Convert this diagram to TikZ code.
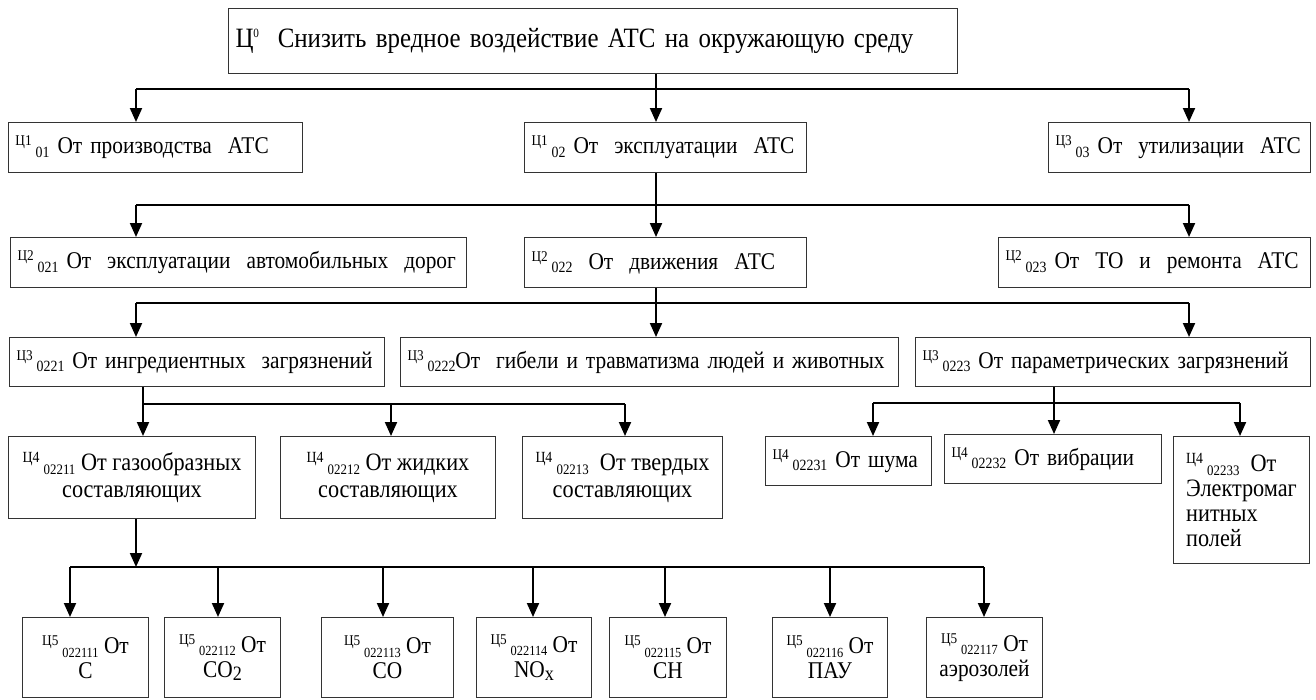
\documentclass[tikz,border=0pt]{standalone}
\usepackage{fontspec}
\setmainfont{Liberation Serif}[FakeStretch=0.89]
\usepackage{graphicx}
\usetikzlibrary{arrows.meta}
\pgfdeclarelayer{bg}
\pgfsetlayers{bg,main}
\newcommand\gc[3][.65]{\raisebox{.33em}{\scalebox{.62}{Ц#2}}\,\raisebox{-.14em}{\scalebox{#1}{#3}}}
\def\gtop{Ц\raisebox{.35em}{\scalebox{.45}{0}}}
\def\lowsub#1{\raisebox{-.12em}{\scalebox{.85}{#1}}}

\tikzset{
  goal/.style={draw=black!80,line width=1pt,anchor=north west,inner xsep=7pt,inner ysep=0pt,align=left,font=\fontsize{24}{27}\selectfont},
  twoline/.style={goal,align=center,inner xsep=3pt,font=\fontsize{25}{27}\selectfont},
  leaf/.style={twoline,font=\fontsize{24}{25}\selectfont},
  link/.style={line width=2pt,-{Triangle[length=14pt,width=12pt]}},
  bus/.style={line width=1.2pt},
}

\begin{document}
\begin{tikzpicture}[x=1pt,y=-1pt]

\useasboundingbox (0,0) rectangle (1316,699);

% Draw the nodes...
\node (0) at (228,8) [goal,text width=715pt,minimum height=65pt,font=\fontsize{28}{30}\selectfont] {\gtop~ Снизить вредное воздействие АТС на окружающую среду};

\node (01) at (8,122) [goal,text width=280pt,minimum height=50pt] {\gc{1}{01} От производства~ АТС};
\node (02) at (524,122) [goal,text width=268pt,minimum height=50pt] {\gc{1}{02} От~ эксплуатации~ АТС};
\node (03) at (1048,122) [goal,text width=248pt,minimum height=50pt] {\gc{3}{03} От~ утилизации~ АТС};

\node (021) at (10,237) [goal,text width=442pt,minimum height=50pt] {\gc{2}{021} От~ эксплуатации~ автомобильных~ дорог};
\node (022) at (524,237) [goal,text width=268pt,minimum height=50pt] {\gc{2}{022}~ От~ движения~ АТС};
\node (023) at (998,237) [goal,text width=298pt,minimum height=50pt] {\gc{2}{023} От~ ТО~ и~ ремонта~ АТС};

\node (0221) at (9,337) [goal,text width=361pt,minimum height=49pt] {\gc{3}{0221} От ингредиентных~ загрязнений};
\node (0222) at (400,337) [goal,text width=484pt,minimum height=49pt] {\gc{3}{0222}От~ гибели и травматизма людей и животных};
\node (0223) at (915,337) [goal,text width=381pt,minimum height=49pt] {\gc{3}{0223} От параметрических загрязнений};

\node (02211) at (8,436) [twoline,minimum width=247pt,minimum height=82pt] {\gc[.58]{4}{02211} От газообразных\\составляющих};
\node (02212) at (280,436) [twoline,minimum width=215pt,minimum height=82pt] {\gc[.58]{4}{02212} От жидких\\составляющих};
\node (02213) at (522,436) [twoline,minimum width=200pt,minimum height=82pt] {\gc[.58]{4}{02213}~ От твердых\\составляющих};

\node (02231) at (765,436) [goal,text width=152pt,minimum height=49pt] {\gc{4}{02231} От шума};
\node (02232) at (944,434) [goal,text width=203pt,minimum height=49pt] {\gc{4}{02232} От вибрации};
\node (02233) at (1173,436) [goal,minimum width=136pt,minimum height=127pt,font=\fontsize{25}{25}\selectfont] {\gc[.58]{4}{02233}~ От\\Электромаг\\нитных\\полей};

\node (022111) at (22,617) [leaf,minimum width=126pt,minimum height=80pt] {\gc[.58]{5}{022111} От\\C};
\node (022112) at (164,617) [leaf,minimum width=116pt,minimum height=80pt] {\gc[.58]{5}{022112} От\\CO\lowsub{2}};
\node (022113) at (321,617) [leaf,minimum width=132pt,minimum height=80pt] {\gc[.58]{5}{022113} От\\CO};
\node (022114) at (476,617) [leaf,minimum width=115pt,minimum height=80pt] {\gc[.58]{5}{022114} От\\NO\lowsub{x}};
\node (022115) at (609,617) [leaf,minimum width=117pt,minimum height=80pt] {\gc[.58]{5}{022115} От\\CH};
\node (022116) at (772,617) [leaf,minimum width=115pt,minimum height=80pt] {\gc[.58]{5}{022116} От\\ПАУ};
\node (022117) at (926,617) [leaf,minimum width=116pt,minimum height=80pt] {\gc[.58]{5}{022117} От\\аэрозолей};

% Bus points...
\coordinate (s01) at (136,89);
\coordinate (s02) at (656,89);
\coordinate (s03) at (1189,89);
\coordinate (s021) at (136,205);
\coordinate (s022) at (656,205);
\coordinate (s023) at (1189,205);
\coordinate (s0221) at (136,303);
\coordinate (s0222) at (656,303);
\coordinate (s0223) at (1189,303);
\coordinate (s02211) at (143,404);
\coordinate (s02212) at (391,404);
\coordinate (s02213) at (625,404);
\coordinate (s02231) at (873,403);
\coordinate (s02232) at (1054,403);
\coordinate (s02233) at (1240,403);
\coordinate (t02211) at (136,567);
\coordinate (s022111) at (70,567);
\coordinate (s022112) at (218,567);
\coordinate (s022113) at (383,567);
\coordinate (s022114) at (533,567);
\coordinate (s022115) at (665,567);
\coordinate (s022116) at (830,567);
\coordinate (s022117) at (984,567);

% Draw the edges...
\begin{pgfonlayer}{bg}
\draw[bus] (s01) -- (s03);
\draw[link] (0.south -| s02) -- (s02 |- 02.north);
\draw[link] (s01) -- (s01 |- 01.north);
\draw[link] (s03) -- (s03 |- 03.north);

\draw[bus] (s021) -- (s023);
\draw[link] (02.south -| s022) -- (s022 |- 022.north);
\draw[link] (s021) -- (s021 |- 021.north);
\draw[link] (s023) -- (s023 |- 023.north);

\draw[bus] (s0221) -- (s0223);
\draw[link] (022.south -| s0222) -- (s0222 |- 0222.north);
\draw[link] (s0221) -- (s0221 |- 0221.north);
\draw[link] (s0223) -- (s0223 |- 0223.north);

\draw[bus] (s02211) -- (s02213);
\draw[link] (0221.south -| s02211) -- (s02211 |- 02211.north);
\draw[link] (s02212) -- (s02212 |- 02212.north);
\draw[link] (s02213) -- (s02213 |- 02213.north);

\draw[bus] (s02231) -- (s02233);
\draw[link] (0223.south -| s02232) -- (s02232 |- 02232.north);
\draw[link] (s02231) -- (s02231 |- 02231.north);
\draw[link] (s02233) -- (s02233 |- 02233.north);

\draw[link] (02211.south -| t02211) -- (t02211);
\draw[bus] (s022111) -- (s022117);
\draw[link] (s022111) -- (s022111 |- 022111.north);
\draw[link] (s022112) -- (s022112 |- 022112.north);
\draw[link] (s022113) -- (s022113 |- 022113.north);
\draw[link] (s022114) -- (s022114 |- 022114.north);
\draw[link] (s022115) -- (s022115 |- 022115.north);
\draw[link] (s022116) -- (s022116 |- 022116.north);
\draw[link] (s022117) -- (s022117 |- 022117.north);
\end{pgfonlayer}

\end{tikzpicture}
\end{document}
